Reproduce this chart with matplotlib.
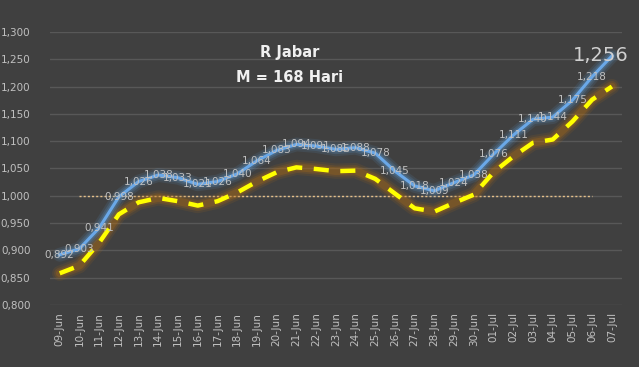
import matplotlib.pyplot as plt

# dates and R values
dates = ['09-Jun', '10-Jun', '11-Jun', '12-Jun', '13-Jun', '14-Jun', '15-Jun', '16-Jun',
         '17-Jun', '18-Jun', '19-Jun', '20-Jun', '21-Jun', '22-Jun', '23-Jun', '24-Jun',
         '25-Jun', '26-Jun', '27-Jun', '28-Jun', '29-Jun', '30-Jun', '01-Jul', '02-Jul',
         '03-Jul', '04-Jul', '05-Jul', '06-Jul', '07-Jul']
r_values = [0.892, 0.903, 0.941, 0.998, 1.026, 1.038, 1.033, 1.021, 1.026, 1.040,
            1.064, 1.083, 1.094, 1.091, 1.085, 1.088, 1.078, 1.045, 1.018, 1.009,
            1.024, 1.038, 1.076, 1.111, 1.140, 1.144, 1.175, 1.218, 1.256]
# lower (yellow dashed) band, estimated
r_lower = [0.858, 0.872, 0.914, 0.966, 0.988, 0.996, 0.990, 0.982, 0.990, 1.006,
           1.026, 1.043, 1.052, 1.049, 1.045, 1.046, 1.031, 1.004, 0.977, 0.971,
           0.987, 1.002, 1.043, 1.072, 1.097, 1.103, 1.136, 1.176, 1.200]
threshold = 1.0
y_ticks = [0.80, 0.85, 0.90, 0.95, 1.00, 1.05, 1.10, 1.15, 1.20, 1.25, 1.30]

bg = '#404040'
fig = plt.figure(figsize=(6.39, 3.67), dpi=100, facecolor=bg)
ax = fig.add_axes([0.078, 0.169, 0.895, 0.744], facecolor=bg)

x = list(range(len(dates)))

# threshold line from 10-Jun to 06-Jul
ax.plot([1, 27], [threshold, threshold], color='#e6c08a', lw=1, ls=(0, (1.5, 1.5)), zorder=2)

# soft glow behind both lines
for w, a in [(11, 0.12), (8, 0.18), (5.5, 0.25)]:
    ax.plot(x, r_lower, color='#b87010', lw=w, alpha=a, solid_capstyle='round',
            solid_joinstyle='round', zorder=3)
    ax.plot(x, r_values, color='#5b9bd5', lw=w - 1, alpha=a, solid_capstyle='round',
            solid_joinstyle='round', zorder=5)

ax.plot(x, r_lower, color='#ffff00', lw=3.2, ls=(0, (3.4, 2.6)), zorder=4)
ax.plot(x, r_values, color='#6aa8e8', lw=2.2, zorder=6)

for i, v in enumerate(r_values):
    txt = f'{v:.3f}'.replace('.', ',')
    if i == len(r_values) - 1:
        ax.text(i - 0.55, v, txt, color='#d0d0d0', fontsize=14, ha='center', va='center', zorder=7)
    else:
        ax.text(i, v, txt, color='#c0c0c0', fontsize=7.5, ha='center', va='center', zorder=7)

ax.text(0.42, 0.923, 'R Jabar', transform=ax.transAxes, color='#f0f0f0', fontsize=10.5,
        fontweight='bold', ha='center', va='center')
ax.text(0.42, 0.832, 'M = 168 Hari', transform=ax.transAxes, color='#f0f0f0', fontsize=10.5,
        fontweight='bold', ha='center', va='center')

ax.set_xlim(-0.5, len(dates) - 0.5)
ax.set_ylim(0.80, 1.30)
ax.set_yticks(y_ticks)
ax.set_yticklabels([f'{t:.3f}'.replace('.', ',') for t in y_ticks])
ax.set_xticks(x)
ax.set_xticklabels(dates, rotation=90)
ax.tick_params(axis='both', length=0, colors='#c0c0c0', labelsize=7.5)
ax.tick_params(axis='y', pad=14)
ax.tick_params(axis='x', pad=5)
ax.grid(axis='y', color='#585858', lw=1)
ax.set_axisbelow(True)
for s in ax.spines.values():
    s.set_visible(False)

fig.savefig('out.png', dpi=100, facecolor=bg)
